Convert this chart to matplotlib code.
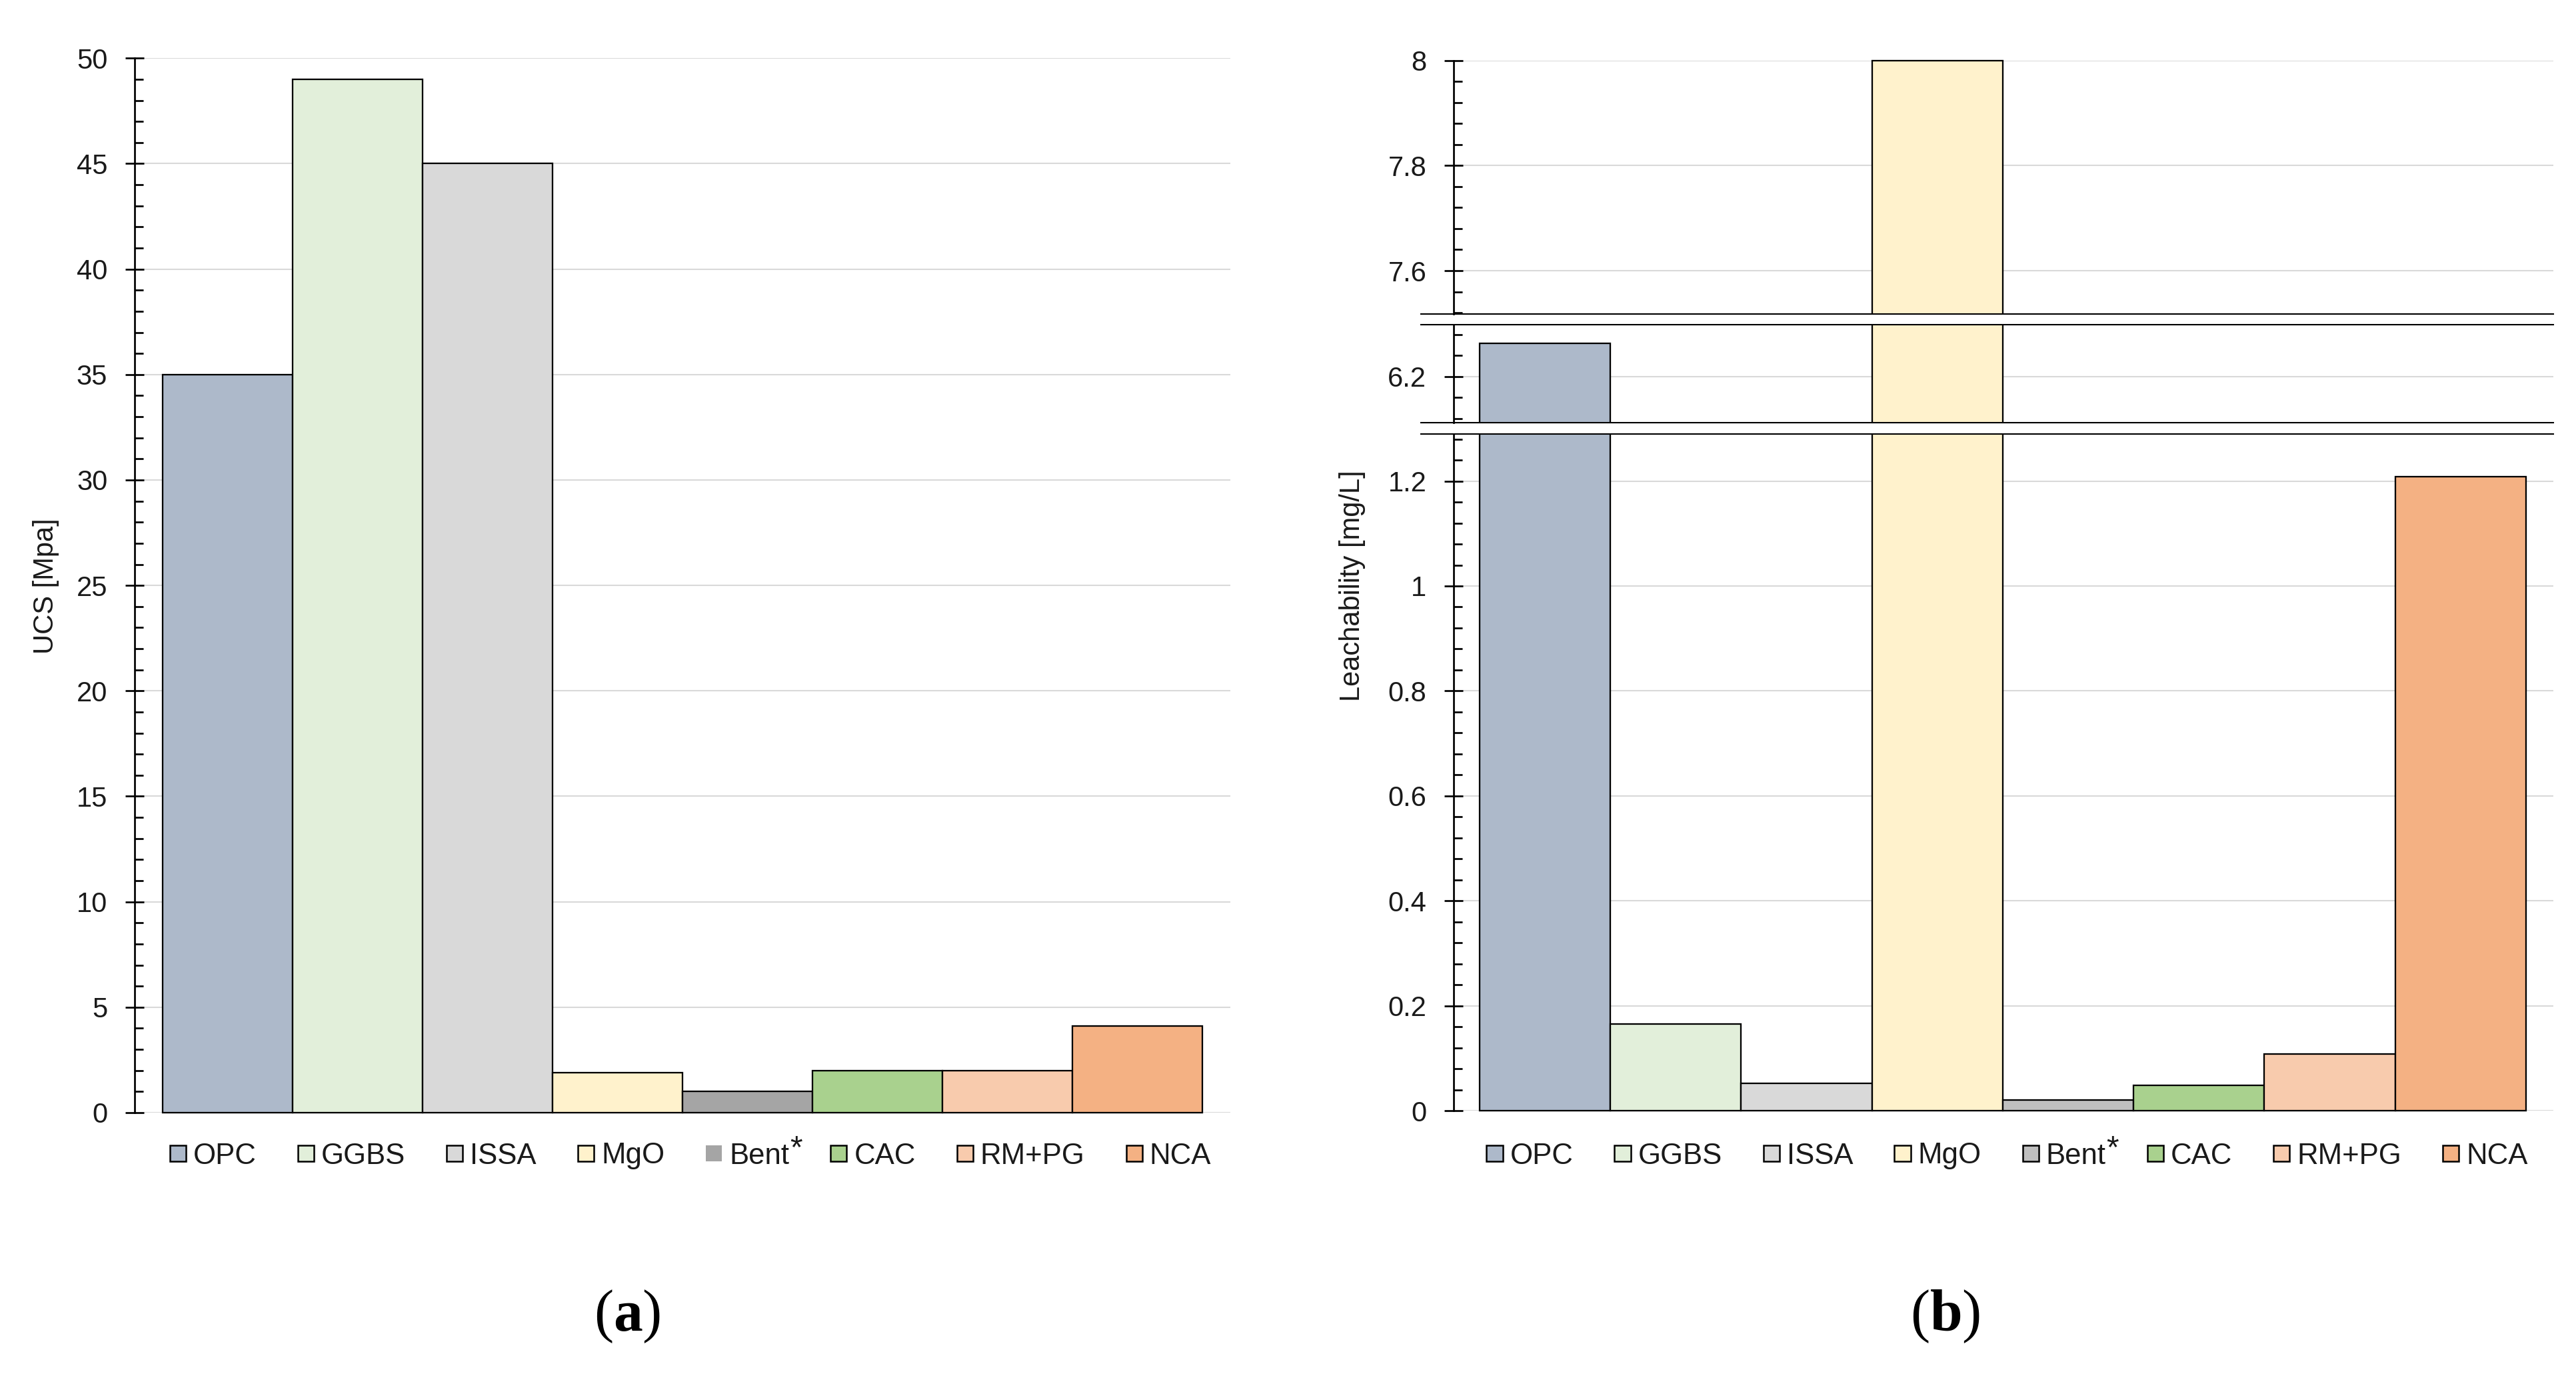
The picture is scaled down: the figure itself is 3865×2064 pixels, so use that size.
import matplotlib
matplotlib.use('Agg')
import matplotlib.pyplot as plt
from matplotlib.patches import Patch, Rectangle
from matplotlib.lines import Line2D
from matplotlib.ticker import MultipleLocator, FuncFormatter
from matplotlib.transforms import IdentityTransform

# ---------------- data ----------------
categories = ['OPC', 'GGBS', 'ISSA', 'MgO', 'Bent', 'CAC', 'RM+PG', 'NCA']
ucs_values = [35.0, 49.0, 45.0, 1.9, 1.0, 2.0, 2.0, 4.1]
leach_values = [6.263, 0.165, 0.052, 8.0, 0.020, 0.048, 0.108, 1.208]
colors_a = ['#ADB9CA', '#E2EFDA', '#D9D9D9', '#FFF2CC', '#A5A5A5', '#A9D18E', '#F8CBAD', '#F4B183']
colors_b = ['#ADB9CA', '#E2EFDA', '#D9D9D9', '#FFF2CC', '#BFBFBF', '#A9D18E', '#F8CBAD', '#F4B183']
ucs_label = 'UCS [Mpa]'
leach_label = 'Leachability [mg/L]'
# broken-axis segments of panel (b): (low, high)
leach_segments = [(0.0, 1.290), (6.112, 6.298), (7.518, 8.0)]
captions = ['a', 'b']

# ---------------- figure ----------------
W, H = 3865, 2064
DPI = 300
plt.rcParams['font.family'] = ['Liberation Sans', 'DejaVu Sans']
plt.rcParams['mathtext.fontset'] = 'custom'
plt.rcParams['mathtext.rm'] = 'Liberation Serif'
plt.rcParams['mathtext.bf'] = 'Liberation Serif:bold'
TXT = '#1a1a1a'

fig = plt.figure(figsize=(W / DPI, H / DPI), dpi=DPI)


def px_axes(x0, x1, ytop, ybot):
    return fig.add_axes([x0 / W, 1 - ybot / H, (x1 - x0) / W, (ybot - ytop) / H])


def style(ax, major, minor):
    for s in ['top', 'right', 'bottom']:
        ax.spines[s].set_visible(False)
    ax.spines['left'].set_linewidth(0.65)
    ax.yaxis.set_major_locator(MultipleLocator(major))
    ax.yaxis.set_minor_locator(MultipleLocator(minor))
    ax.yaxis.set_major_formatter(FuncFormatter(lambda v, p: f'{v:g}'))
    ax.tick_params(axis='y', which='major', direction='inout', length=6.8,
                   width=0.65, pad=6.3, labelsize=10, labelcolor=TXT)
    ax.tick_params(axis='y', which='minor', direction='in', length=3.0, width=0.65)
    ax.tick_params(axis='x', which='both', bottom=False, labelbottom=False)
    ax.yaxis.grid(True, which='major', color='#D9D9D9', linewidth=0.5)
    ax.set_axisbelow(True)


xs = list(range(len(categories)))

# ---------------- panel (a) ----------------
axa = px_axes(201.7, 1846, 87.3, 1669)
style(axa, 5, 1)
axa.set_xlim(-0.715, 7.715)
axa.set_ylim(0, 50)
axa.bar(xs, ucs_values, width=1.0, color=colors_a, edgecolor='black',
        linewidth=0.55, clip_on=False, zorder=2)

# ---------------- panel (b) ----------------
seg_px = [(650.7, 1666.2), (487.3, 634.3), (90.6, 470.7)]  # (top, bottom) pixels
axes_b = []
for k, ((lo, hi), (yt, yb)) in enumerate(zip(leach_segments, seg_px)):
    ax = px_axes(2180.7, 3831, yt, yb)
    style(ax, 0.2, 0.04)
    ax.set_xlim(-0.7, 7.71)
    ax.set_ylim(lo, hi)
    bars = ax.bar(xs, leach_values, width=1.0, color=colors_b, edgecolor='black',
                  linewidth=0.55, zorder=2)
    if k == 0:
        clip = Rectangle((0, -0.01), 1, 1.01, transform=ax.transAxes)
    elif k == 2:
        clip = Rectangle((0, 0), 1, 1.01, transform=ax.transAxes)
    else:
        clip = None
    if clip is not None:
        for b in bars:
            b.set_clip_path(clip)
    axes_b.append(ax)

# break lines
for y in [470.7, 487.3, 634.3, 650.7]:
    fig.add_artist(Line2D([2132 / W, 3831 / W], [1 - y / H, 1 - y / H],
                          transform=fig.transFigure, color='black', linewidth=0.5))

# ---------------- y labels ----------------
fig.text(69 / W, 1 - 879 / H, ucs_label, rotation=90, ha='center', va='center',
         fontsize=10, color=TXT)
fig.text(2029 / W, 1 - 879 / H, leach_label, rotation=90, ha='center', va='center',
         fontsize=10, color=TXT)

# ---------------- legends ----------------
legends = []
for colors, cx, bent_edge in [(colors_a, 1036, False), (colors_b, 3011.5, True)]:
    handles = []
    for i, c in enumerate(colors):
        ec = 'black' if (i != 4 or bent_edge) else 'none'
        handles.append(Patch(facecolor=c, edgecolor=ec, linewidth=0.6))
    leg = fig.legend(handles, categories, loc='center',
                     bbox_to_anchor=(cx / W, 1 - 1734 / H), ncol=len(categories),
                     frameon=False, fontsize=10.5, handlelength=0.55,
                     handleheight=0.469, handletextpad=0.25, columnspacing=1.42,
                     borderpad=0, borderaxespad=0)
    for t in leg.get_texts():
        t.set_color(TXT)
    legends.append(leg)

# ---------------- captions ----------------
for cap, cx in zip(captions, [941, 2919]):
    fig.text(cx / W, 1 - 1996 / H, r'$(\mathbf{' + cap + r'})$', ha='center',
             va='baseline', fontsize=21, color='black')

# asterisk superscript on "Bent"
fig.canvas.draw()
r = fig.canvas.get_renderer()
for leg in legends:
    t = leg.get_texts()[categories.index('Bent')]
    bb = t.get_window_extent(r)
    fig.text(bb.x1 + 1, bb.y1 - 23, '*', transform=IdentityTransform(),
             ha='left', va='baseline', fontsize=11.5, color=TXT)

fig.savefig('out.png', dpi=DPI)
